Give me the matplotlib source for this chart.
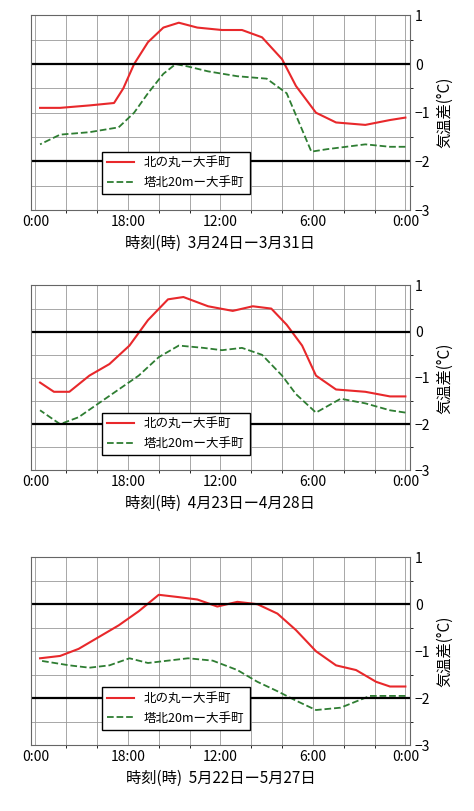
import matplotlib
matplotlib.use("Agg")
import matplotlib.pyplot as plt
from matplotlib.ticker import MultipleLocator

plt.rcParams['font.family'] = ['Noto Sans CJK JP', 'DejaVu Sans']

# Panel 1: 3/24-3/31
h1r = [0, 1.0, 2.6, 4.5, 5.8, 7.1, 8.0, 9.3, 10.6, 11.9, 13.5, 14.7, 15.7, 16.7, 17.6, 18.3, 18.9, 20.5, 22.4, 23.7]
v1r = [-1.1, -1.15, -1.25, -1.2, -1.0, -0.45, 0.1, 0.55, 0.7, 0.7, 0.75, 0.85, 0.75, 0.45, 0.0, -0.5, -0.8, -0.85, -0.9, -0.9]
h1g = [0, 1.0, 2.6, 5.1, 6.1, 7.1, 7.7, 9.0, 10.9, 12.8, 14.1, 14.9, 15.7, 16.7, 17.6, 18.6, 20.5, 22.4, 23.7]
v1g = [-1.7, -1.7, -1.65, -1.75, -1.8, -1.05, -0.6, -0.3, -0.25, -0.15, -0.05, 0.0, -0.2, -0.6, -1.0, -1.3, -1.4, -1.45, -1.65]

# Panel 2: 4/23-4/28
h2r = [0, 1.0, 2.6, 4.5, 5.8, 6.7, 7.7, 8.7, 9.9, 11.2, 12.8, 14.4, 15.4, 16.7, 17.9, 19.2, 20.5, 21.8, 22.8, 23.7]
v2r = [-1.4, -1.4, -1.3, -1.25, -0.95, -0.3, 0.15, 0.5, 0.55, 0.45, 0.55, 0.75, 0.7, 0.25, -0.3, -0.7, -0.95, -1.3, -1.3, -1.1]
h2g = [0, 1.0, 2.6, 4.2, 5.8, 7.1, 8.0, 9.3, 10.6, 11.9, 13.1, 14.7, 16.0, 17.3, 18.6, 19.9, 21.2, 22.4, 23.7]
v2g = [-1.75, -1.7, -1.55, -1.45, -1.75, -1.35, -0.95, -0.5, -0.35, -0.4, -0.35, -0.3, -0.55, -0.95, -1.25, -1.55, -1.85, -2.0, -1.7]

# Panel 3: 5/22-5/27
h3r = [0, 1.0, 1.9, 3.2, 4.5, 5.8, 7.1, 8.3, 9.6, 10.9, 12.2, 13.5, 14.7, 16.0, 17.3, 18.6, 19.9, 21.2, 22.4, 23.7]
v3r = [-1.75, -1.75, -1.65, -1.4, -1.3, -1.0, -0.55, -0.2, 0.0, 0.05, -0.05, 0.1, 0.15, 0.2, -0.15, -0.45, -0.7, -0.95, -1.1, -1.15]
h3g = [0, 1.0, 2.3, 4.2, 5.8, 7.1, 8.3, 9.6, 10.9, 12.5, 14.1, 15.4, 16.7, 17.9, 19.2, 20.5, 21.8, 23.7]
v3g = [-1.95, -1.95, -1.95, -2.2, -2.25, -2.05, -1.85, -1.65, -1.4, -1.2, -1.15, -1.2, -1.25, -1.15, -1.3, -1.35, -1.3, -1.2]

xticks = [0, 6, 12, 18, 24]
xticklabels = ['0:00', '6:00', '12:00', '18:00', '0:00']
yticks = [1, 0, -1, -2, -3]
labels = ['北の丸ー大手町', '塔北20mー大手町']
periods = ['3月24日ー3月31日', '4月23日ー4月28日', '5月22日ー5月27日']

panels = [(h1r, v1r, h1g, v1g), (h2r, v2r, h2g, v2g), (h3r, v3r, h3g, v3g)]
boxes = [(0.741, 0.240), (0.420, 0.228), (0.081, 0.232)]

fig = plt.figure(figsize=(4.74, 8.11), dpi=100)
for (hr, vr, hg, vg), (b, ht), per in zip(panels, boxes, periods):
    ax = fig.add_axes([0.065, b, 0.80, ht])
    ax.plot(hr, vr, color='#e8282b', lw=1.5, label=labels[0])
    ax.plot(hg, vg, color='#2e7d32', lw=1.3, ls='--', label=labels[1])
    ax.set_xlim(24.3, -0.3)
    ax.set_ylim(-3, 1)
    ax.xaxis.set_minor_locator(MultipleLocator(2))
    ax.yaxis.set_minor_locator(MultipleLocator(0.5))
    ax.grid(which='both', color='#999999', lw=0.6)
    ax.axhline(0, color='black', lw=1.6)
    ax.axhline(-2, color='black', lw=1.6)
    ax.set_xticks(xticks)
    ax.set_xticklabels(xticklabels, fontsize=10)
    ax.set_yticks(yticks)
    ax.yaxis.tick_right()
    ax.yaxis.set_label_position('right')
    ax.tick_params(length=0, labelsize=10)
    ax.set_ylabel('気温差(°C)', fontsize=11)
    ax.set_xlabel('時刻(時)  ' + per, fontsize=11)
    ax.legend(loc='lower left', bbox_to_anchor=(0.17, 0.05), fontsize=9,
              frameon=True, fancybox=False, edgecolor='black', framealpha=1,
              handlelength=2.2)
    for s in ax.spines.values():
        s.set_color('#666666')

fig.savefig('out.png', dpi=100)
